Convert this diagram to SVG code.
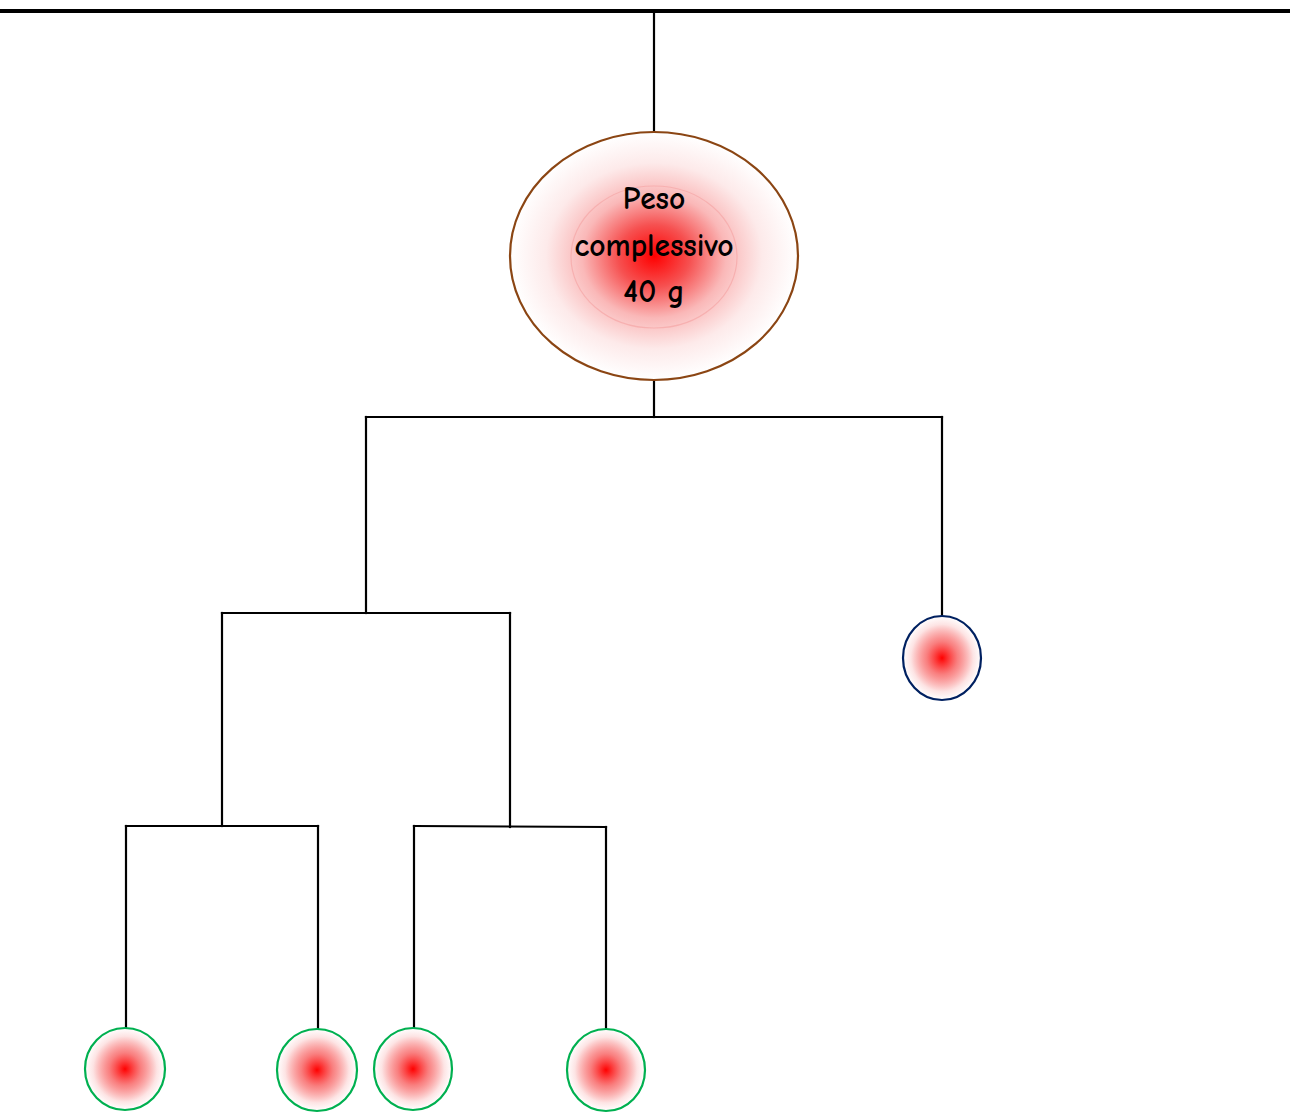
<svg xmlns="http://www.w3.org/2000/svg" width="1297" height="1113" viewBox="0 0 1297 1113">
<style>
.ln{stroke:#000;stroke-width:2.2;fill:none;stroke-linecap:square}
.leaf{stroke:#00b050;stroke-width:2.2;fill:url(#rg)}
.txt{font-family:"Comic Neue","DejaVu Sans","Liberation Sans",sans-serif;font-size:31.5px;font-weight:bold;fill:#000;text-anchor:middle}
</style>
<defs>
<radialGradient id="rg" cx="0.5" cy="0.5" r="0.5">
<stop offset="0" stop-color="#ff0000"/>
<stop offset="0.4" stop-color="#f86a6a" stop-opacity="0.85"/>
<stop offset="0.8" stop-color="#fde4e4"/>
<stop offset="1" stop-color="#ffffff"/>
</radialGradient>
<radialGradient id="rgBig" cx="0.5" cy="0.5" r="0.5">
<stop offset="0" stop-color="#ff0000"/>
<stop offset="0.25" stop-color="#f65050"/>
<stop offset="0.5" stop-color="#fab8b8"/>
<stop offset="0.75" stop-color="#fdeaea"/>
<stop offset="1" stop-color="#ffffff"/>
</radialGradient>
</defs>
<g id="connectors">
<line x1="0" y1="11" x2="1290" y2="11" style="stroke:#000;stroke-width:4"/>
<line class="ln" x1="654" y1="11" x2="654" y2="132"/>
<line class="ln" x1="654" y1="380" x2="654" y2="417"/>
<line class="ln" x1="366" y1="417" x2="942" y2="417"/>
<line class="ln" x1="366" y1="417" x2="366" y2="613"/>
<line class="ln" x1="942" y1="417" x2="942" y2="616"/>
<line class="ln" x1="222" y1="613" x2="510" y2="613"/>
<line class="ln" x1="222" y1="613" x2="222" y2="826"/>
<line class="ln" x1="510" y1="613" x2="510" y2="827"/>
<line class="ln" x1="126" y1="826" x2="318" y2="826"/>
<line class="ln" x1="414" y1="826" x2="606" y2="827"/>
<line class="ln" x1="126" y1="826" x2="126" y2="1028"/>
<line class="ln" x1="318" y1="826" x2="318" y2="1028"/>
<line class="ln" x1="414" y1="826" x2="414" y2="1028"/>
<line class="ln" x1="606" y1="827" x2="606" y2="1029"/>
</g>
<g id="root">
<ellipse cx="654" cy="256" rx="144" ry="124" fill="url(#rgBig)" stroke="#8b4513" stroke-width="2.2"/>
<ellipse cx="654" cy="257" rx="83" ry="71" fill="none" stroke="#f7b0b0" stroke-width="1.2"/>
<text class="txt" x="654" y="209">Peso</text>
<text class="txt" x="654" y="256">complessivo</text>
<text class="txt" x="654" y="302">40 g</text>
</g>
<g id="leaf-right">
<ellipse cx="942" cy="658" rx="39" ry="42" fill="url(#rg)" stroke="#002060" stroke-width="2.2"/>
</g>
<g id="leaf-1"><ellipse class="leaf" cx="125" cy="1069" rx="40" ry="41"/></g>
<g id="leaf-2"><ellipse class="leaf" cx="317" cy="1070" rx="40" ry="41"/></g>
<g id="leaf-3"><ellipse class="leaf" cx="413" cy="1069" rx="39" ry="41"/></g>
<g id="leaf-4"><ellipse class="leaf" cx="606" cy="1070" rx="39" ry="41"/></g>
</svg>
